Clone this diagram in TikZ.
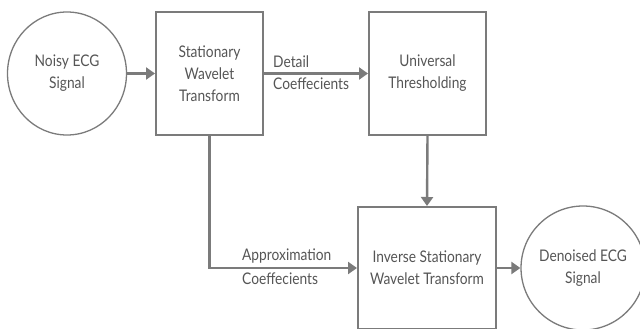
\documentclass[tikz,border=0pt]{standalone}
\usepackage{fontspec}
\setmainfont{Lato}[FakeStretch=0.86]
\usetikzlibrary{shapes.geometric,arrows.meta}
\definecolor{linec}{HTML}{7B7B7B}
\definecolor{textc}{HTML}{555555}
\begin{document}
\begin{tikzpicture}[x=1pt,y=-1pt,
  every node/.style={font=\fontsize{16}{22}\selectfont, text=textc, align=center},
  circ/.style={draw=linec, line width=1.3pt, ellipse, inner sep=0pt},
  boxn/.style={draw=linec, line width=2pt, rectangle, inner sep=0pt},
  conn/.style={draw=linec, line width=2.4pt, -{Triangle[length=9pt,width=12pt]}},
  lbl/.style={align=left, inner sep=0pt, anchor=west}]
\useasboundingbox (0,0) rectangle (640,329);
\node[circ, minimum width=119pt, minimum height=123pt] (noisy) at (67,73.5) {Noisy ECG\\Signal};
\node[boxn, minimum width=107pt, minimum height=123pt] (swt) at (209.5,73.5) {Stationary\\Wavelet\\Transform};
\node[boxn, minimum width=117pt, minimum height=123pt] (ut) at (427.5,73.5) {Universal\\Thresholding};
\node[boxn, minimum width=138pt, minimum height=122pt] (ist) at (427,268) {Inverse Stationary\\Wavelet Transform};
\node[circ, minimum width=110pt, minimum height=124pt] (den) at (583,268) {Denoised ECG\\Signal};
\coordinate (corner) at (swt.south |- ist.west);
\draw[conn] (noisy.east) -- (swt.west);
\draw[conn] (swt.east) -- (ut.west);
\draw[conn] (ut.south) -- (ist.north);
\draw[conn] (swt.south) -- (corner) -- (ist.west);
\draw[conn] (ist.east) -- (den.west);
\node[lbl] (dl1) at (273,62) {Detail};
\node[lbl] (dl2) at (273,84) {Coeffecients};
\node[lbl] (al1) at (242,256) {Approximation};
\node[lbl] (al2) at (242,279) {Coeffecients};
\end{tikzpicture}
\end{document}
